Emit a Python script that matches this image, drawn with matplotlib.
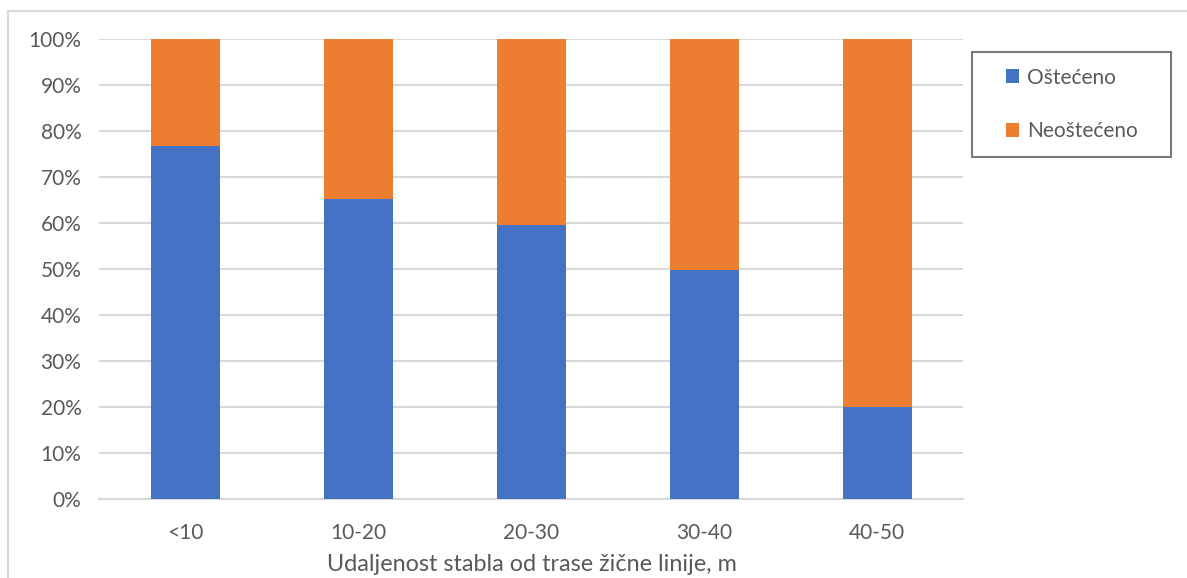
import matplotlib.pyplot as plt
import matplotlib.patches as mpatches
from matplotlib.ticker import PercentFormatter

# share of trees per distance class (percent)
categories = ['<10', '10-20', '20-30', '30-40', '40-50']
ostećeno = [76.7, 65.2, 59.6, 49.8, 20.0]
neoštećeno = [100 - v for v in ostećeno]

BLUE = '#4472C4'
ORANGE = '#ED7D31'
TEXT = '#595959'
GRID = '#D9D9D9'

plt.rcParams['font.family'] = ['Lato', 'DejaVu Sans']

fig = plt.figure(figsize=(11.87, 5.78), dpi=100)
ax = fig.add_axes([0.0838, 0.1367, 0.7279, 0.7958])

x = range(len(categories))
ax.bar(x, ostećeno, width=0.4, color=BLUE, label='Oštećeno', zorder=3)
ax.bar(x, neoštećeno, width=0.4, bottom=ostećeno, color=ORANGE,
       label='Neoštećeno', zorder=3)

ax.set_xlim(-0.5, len(categories) - 0.5)
ax.set_ylim(0, 100)
ax.set_yticks(range(0, 101, 10))
ax.yaxis.set_major_formatter(PercentFormatter(decimals=0))
ax.set_xticks(list(x))
ax.set_xticklabels(categories)
ax.grid(axis='y', color=GRID, linewidth=1.5, zorder=0)
ax.tick_params(axis='both', length=0, labelsize=15, colors=TEXT)
ax.tick_params(axis='x', pad=17)
ax.tick_params(axis='y', pad=13)
for side in ['top', 'right', 'left']:
    ax.spines[side].set_visible(False)
ax.spines['bottom'].set_color(GRID)
ax.spines['bottom'].set_linewidth(1.5)

ax.set_xlabel('Udaljenost stabla od trase žične linije, m', fontsize=16.8,
              color=TEXT, labelpad=8)

leg = fig.legend(loc='upper left', bbox_to_anchor=(972 / 1187, 1 - 52 / 578),
                 frameon=True, fancybox=False, fontsize=15, labelcolor=TEXT,
                 handlelength=0.65, handleheight=0.65, handletextpad=0.35,
                 labelspacing=1.6, borderpad=0.75, borderaxespad=0)
leg.get_frame().set_edgecolor('#595959')
leg.get_frame().set_linewidth(1.5)
# widen the legend box
leg._legend_box.set_width(168)

# outer chart frame (only top and left edges fall inside the image)
fig.patches.append(mpatches.Rectangle((8 / 1187, -0.1), 1.2, 1 - 11 / 578 + 0.1,
                                      transform=fig.transFigure, fill=False,
                                      edgecolor=GRID, linewidth=1.5))

fig.savefig('out.png', dpi=100)
